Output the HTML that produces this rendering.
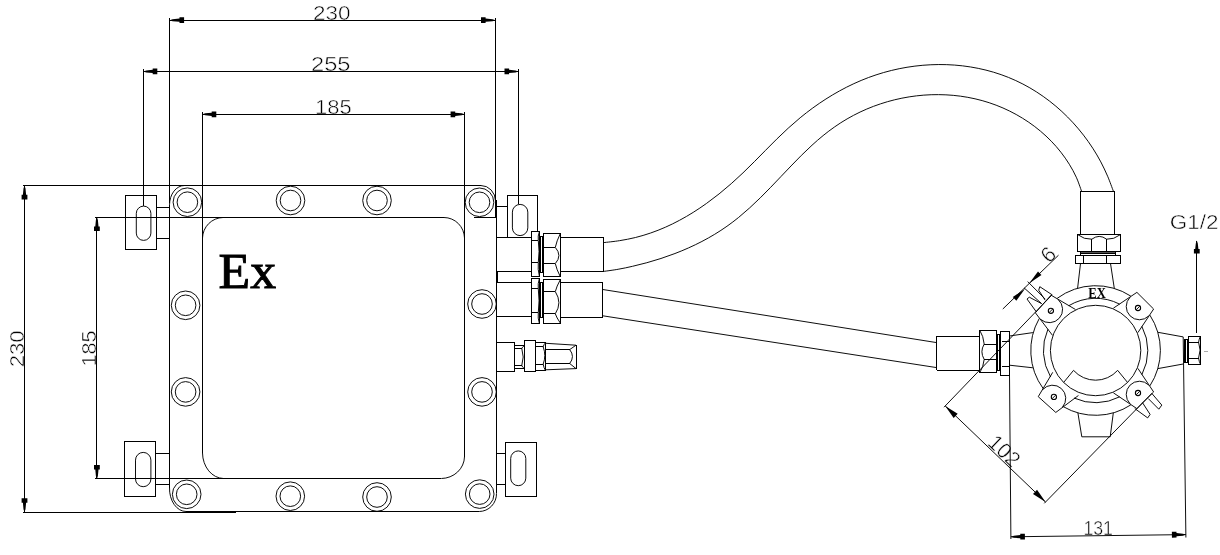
<!DOCTYPE html>
<html><head><meta charset="utf-8"><title>Ex junction box drawing</title>
<style>
html,body{margin:0;padding:0;background:#fff;}
svg{display:block;filter:grayscale(1)}
.cad{font-family:"Liberation Sans",sans-serif;fill:#000;stroke:#fff;stroke-width:0.5px;}
.g{fill:none;stroke:#000;stroke-width:0.95;stroke-linecap:butt;stroke-linejoin:miter}
</style></head>
<body>
<svg width="1220" height="555" viewBox="0 0 1220 555">
<rect x="0" y="0" width="1220" height="555" fill="#fff"/>
<g>
<text class="cad" x="313" y="20.0" font-size="19.5" textLength="37.5" lengthAdjust="spacingAndGlyphs" text-anchor="start">230</text>
<text class="cad" x="311" y="71.2" font-size="19.5" textLength="39.5" lengthAdjust="spacingAndGlyphs" text-anchor="start">255</text>
<text class="cad" x="315" y="114.0" font-size="19.5" textLength="36.7" lengthAdjust="spacingAndGlyphs" text-anchor="start">185</text>
<text class="cad" x="24.2" y="367.3" font-size="20.3" textLength="37" lengthAdjust="spacingAndGlyphs" transform="rotate(-90 24.2 367.3)" text-anchor="start">230</text>
<text class="cad" x="96.5" y="366.6" font-size="20.3" textLength="36.3" lengthAdjust="spacingAndGlyphs" transform="rotate(-90 96.5 366.6)" text-anchor="start">185</text>
<text class="cad" x="1169.7" y="228.7" font-size="19.5" textLength="48.7" lengthAdjust="spacingAndGlyphs" text-anchor="start">G1/2</text>
<text class="cad" x="1083.4" y="535.4" font-size="19.5" textLength="29.6" lengthAdjust="spacingAndGlyphs" text-anchor="start">131</text>
<text class="cad" x="986.6" y="444.0" font-size="21.5" textLength="35" lengthAdjust="spacingAndGlyphs" transform="rotate(43.8 986.6 444.0)" text-anchor="start">102</text>
<text class="cad" x="1049.0" y="264.0" font-size="21.5" transform="rotate(-44 1049.0 264.0)" text-anchor="start">6</text>
<text x="218.6" y="288" font-family="'Liberation Serif',serif" font-size="50.5" textLength="57.5" lengthAdjust="spacingAndGlyphs" fill="#000" stroke="#000" stroke-width="1">Ex</text>
<text x="1088.2" y="298" font-family="'Liberation Serif',serif" font-weight="bold" font-size="14" textLength="17.6" lengthAdjust="spacingAndGlyphs" fill="#000">EX</text>
</g>
<g class="g">
<path d="M480.8,185.5 A14.7,15.5 0 0 1 495.5,201"/>
<line x1="184.60" y1="185.50" x2="480.80" y2="185.50" shape-rendering="crispEdges" stroke-width="1"/>
<path d="M496.5,493.3 A17.4,17.8 0 0 1 479.2,511.5 M186.2,511.5 A16.6,23 0 0 1 169.5,487.6 M169.5,204.9 A15,19.5 0 0 1 184.6,185.5"/>
<line x1="496.50" y1="200.00" x2="496.50" y2="493.30" shape-rendering="crispEdges" stroke-width="1"/>
<line x1="186.20" y1="511.50" x2="479.20" y2="511.50" shape-rendering="crispEdges" stroke-width="1"/>
<line x1="169.50" y1="204.90" x2="169.50" y2="487.60" shape-rendering="crispEdges" stroke-width="1"/>
<path d="M202.5,238 A21,21 0 0 1 223,217.5 M444,217.5 A20.7,21 0 0 1 464.5,238 M464.5,456.7 A23.5,22.2 0 0 1 441.3,478.5 M223.4,478.5 A21.4,26 0 0 1 202.5,453"/>
<line x1="223.00" y1="217.50" x2="444.00" y2="217.50" shape-rendering="crispEdges" stroke-width="1"/>
<line x1="464.50" y1="238.00" x2="464.50" y2="456.70" shape-rendering="crispEdges" stroke-width="1"/>
<line x1="223.40" y1="478.50" x2="441.30" y2="478.50" shape-rendering="crispEdges" stroke-width="1"/>
<line x1="202.50" y1="238.00" x2="202.50" y2="453.00" shape-rendering="crispEdges" stroke-width="1"/>
<line x1="474.30" y1="217.50" x2="495.50" y2="217.50" shape-rendering="crispEdges" stroke-width="1"/>
<circle cx="187.40" cy="202.20" r="14.30"/>
<circle cx="187.40" cy="202.20" r="10.30"/>
<circle cx="290.50" cy="200.50" r="14.30"/>
<circle cx="290.50" cy="200.50" r="10.30"/>
<circle cx="377.00" cy="200.50" r="14.30"/>
<circle cx="377.00" cy="200.50" r="10.30"/>
<circle cx="479.50" cy="202.30" r="14.30"/>
<circle cx="479.50" cy="202.30" r="10.30"/>
<circle cx="186.70" cy="494.30" r="14.30"/>
<circle cx="186.70" cy="494.30" r="10.30"/>
<circle cx="290.30" cy="496.20" r="14.30"/>
<circle cx="290.30" cy="496.20" r="10.30"/>
<circle cx="377.00" cy="497.00" r="14.30"/>
<circle cx="377.00" cy="497.00" r="10.30"/>
<circle cx="479.70" cy="494.10" r="14.30"/>
<circle cx="479.70" cy="494.10" r="10.30"/>
<circle cx="185.60" cy="305.30" r="14.30"/>
<circle cx="185.60" cy="305.30" r="10.30"/>
<circle cx="185.60" cy="391.90" r="14.30"/>
<circle cx="185.60" cy="391.90" r="10.30"/>
<circle cx="482.00" cy="304.00" r="14.30"/>
<circle cx="482.00" cy="304.00" r="10.30"/>
<circle cx="482.00" cy="391.90" r="14.30"/>
<circle cx="482.00" cy="391.90" r="10.30"/>
<rect x="125.50" y="195.50" width="31.00" height="54.00" shape-rendering="crispEdges" stroke-width="1"/>
<path d="M136.30,213.40 A7.30,7.30 0 0 1 150.90,213.40 V233.10 A7.30,7.30 0 0 1 136.30,233.10 Z"/>
<line x1="156.70" y1="207.50" x2="169.60" y2="207.50" shape-rendering="crispEdges" stroke-width="1"/>
<line x1="156.70" y1="238.50" x2="169.60" y2="238.50" shape-rendering="crispEdges" stroke-width="1"/>
<rect x="124.50" y="441.50" width="31.00" height="55.00" shape-rendering="crispEdges" stroke-width="1"/>
<path d="M135.50,460.10 A7.70,7.70 0 0 1 150.90,460.10 V479.00 A7.70,7.70 0 0 1 135.50,479.00 Z"/>
<line x1="155.70" y1="453.50" x2="169.60" y2="453.50" shape-rendering="crispEdges" stroke-width="1"/>
<line x1="155.70" y1="484.50" x2="169.60" y2="484.50" shape-rendering="crispEdges" stroke-width="1"/>
<line x1="507.50" y1="237.40" x2="507.50" y2="195.30" shape-rendering="crispEdges" stroke-width="1"/>
<line x1="507.20" y1="195.50" x2="537.70" y2="195.50" shape-rendering="crispEdges" stroke-width="1"/>
<line x1="537.50" y1="195.30" x2="537.50" y2="231.60" shape-rendering="crispEdges" stroke-width="1"/>
<path d="M512.40,212.10 A7.70,7.70 0 0 1 527.80,212.10 V227.90 A7.70,7.70 0 0 1 512.40,227.90 Z"/>
<line x1="496.30" y1="206.50" x2="507.20" y2="206.50" shape-rendering="crispEdges" stroke-width="1"/>
<rect x="505.50" y="442.50" width="31.00" height="54.00" shape-rendering="crispEdges" stroke-width="1"/>
<path d="M510.70,458.45 A7.55,7.55 0 0 1 525.80,458.45 V478.15 A7.55,7.55 0 0 1 510.70,478.15 Z"/>
<line x1="496.30" y1="453.50" x2="505.70" y2="453.50" shape-rendering="crispEdges" stroke-width="1"/>
<line x1="496.30" y1="484.50" x2="505.70" y2="484.50" shape-rendering="crispEdges" stroke-width="1"/>
<line x1="169.60" y1="20.50" x2="495.60" y2="20.50" shape-rendering="crispEdges" stroke-width="1"/>
<line x1="169.50" y1="17.50" x2="169.50" y2="202.50" shape-rendering="crispEdges" stroke-width="1"/>
<line x1="495.50" y1="17.50" x2="495.50" y2="217.00" shape-rendering="crispEdges" stroke-width="1"/>
<path d="M169.60,20.20 L172.60,19.20 L179.50,18.60 L179.50,17.30 L184.10,17.30 L184.10,23.10 L179.50,23.10 L179.50,21.80 L172.60,21.20 Z" fill="#000" stroke="none"/>
<path d="M495.50,20.20 L492.50,21.20 L485.60,21.80 L485.60,23.10 L481.00,23.10 L481.00,17.30 L485.60,17.30 L485.60,18.60 L492.50,19.20 Z" fill="#000" stroke="none"/>
<line x1="143.30" y1="71.50" x2="518.50" y2="71.50" shape-rendering="crispEdges" stroke-width="1"/>
<line x1="143.50" y1="68.50" x2="143.50" y2="206.10" shape-rendering="crispEdges" stroke-width="1"/>
<line x1="518.50" y1="68.50" x2="518.50" y2="204.40" shape-rendering="crispEdges" stroke-width="1"/>
<path d="M143.30,71.40 L146.30,70.40 L152.70,69.80 L152.70,68.50 L157.30,68.50 L157.30,74.30 L152.70,74.30 L152.70,73.00 L146.30,72.40 Z" fill="#000" stroke="none"/>
<path d="M518.50,71.40 L515.50,72.40 L509.10,73.00 L509.10,74.30 L504.50,74.30 L504.50,68.50 L509.10,68.50 L509.10,69.80 L515.50,70.40 Z" fill="#000" stroke="none"/>
<line x1="202.30" y1="114.50" x2="464.60" y2="114.50" shape-rendering="crispEdges" stroke-width="1"/>
<line x1="202.50" y1="111.50" x2="202.50" y2="238.50" shape-rendering="crispEdges" stroke-width="1"/>
<line x1="464.50" y1="111.50" x2="464.50" y2="238.50" shape-rendering="crispEdges" stroke-width="1"/>
<path d="M202.30,114.30 L205.30,113.30 L211.70,112.70 L211.70,111.40 L216.30,111.40 L216.30,117.20 L211.70,117.20 L211.70,115.90 L205.30,115.30 Z" fill="#000" stroke="none"/>
<path d="M464.60,114.30 L461.60,115.30 L455.20,115.90 L455.20,117.20 L450.60,117.20 L450.60,111.40 L455.20,111.40 L455.20,112.70 L461.60,113.30 Z" fill="#000" stroke="none"/>
<line x1="24.50" y1="185.40" x2="24.50" y2="512.20" shape-rendering="crispEdges" stroke-width="1"/>
<line x1="23.00" y1="185.50" x2="186.50" y2="185.50" shape-rendering="crispEdges" stroke-width="1"/>
<line x1="23.00" y1="512.50" x2="236.00" y2="512.50" shape-rendering="crispEdges" stroke-width="1"/>
<path d="M24.50,185.40 L25.50,188.40 L26.10,194.80 L27.40,194.80 L27.40,199.40 L21.60,199.40 L21.60,194.80 L22.90,194.80 L23.50,188.40 Z" fill="#000" stroke="none"/>
<path d="M24.50,512.20 L23.50,509.20 L22.90,502.80 L21.60,502.80 L21.60,498.20 L27.40,498.20 L27.40,502.80 L26.10,502.80 L25.50,509.20 Z" fill="#000" stroke="none"/>
<line x1="96.50" y1="217.10" x2="96.50" y2="478.90" shape-rendering="crispEdges" stroke-width="1"/>
<line x1="95.30" y1="217.50" x2="223.50" y2="217.50" shape-rendering="crispEdges" stroke-width="1"/>
<line x1="95.30" y1="478.50" x2="225.00" y2="478.50" shape-rendering="crispEdges" stroke-width="1"/>
<path d="M96.90,217.10 L97.90,220.10 L98.50,226.50 L99.80,226.50 L99.80,231.10 L94.00,231.10 L94.00,226.50 L95.30,226.50 L95.90,220.10 Z" fill="#000" stroke="none"/>
<path d="M96.90,478.90 L95.90,475.90 L95.30,469.50 L94.00,469.50 L94.00,464.90 L99.80,464.90 L99.80,469.50 L98.50,469.50 L97.90,475.90 Z" fill="#000" stroke="none"/>
<line x1="496.30" y1="237.50" x2="531.20" y2="237.50" shape-rendering="crispEdges" stroke-width="1"/>
<line x1="496.30" y1="271.50" x2="531.20" y2="271.50" shape-rendering="crispEdges" stroke-width="1"/>
<rect x="531.50" y="231.50" width="8.00" height="45.00" shape-rendering="crispEdges" stroke-width="1"/>
<line x1="531.30" y1="240.50" x2="538.30" y2="240.50" shape-rendering="crispEdges" stroke-width="1"/>
<line x1="531.30" y1="262.50" x2="538.30" y2="262.50" shape-rendering="crispEdges" stroke-width="1"/>
<path d="M539.4,231.6 Q537.6,236.05 538.3,240.5 Q539.8,251.5 538.3,262.5 Q537.6,269.4 539.4,276.3"/>
<rect x="540.50" y="236.50" width="2.00" height="36.00" shape-rendering="crispEdges" stroke-width="1"/>
<rect x="543.50" y="233.50" width="17.00" height="43.00" shape-rendering="crispEdges" stroke-width="1"/>
<line x1="543.30" y1="247.50" x2="555.30" y2="247.50" shape-rendering="crispEdges" stroke-width="1"/>
<line x1="543.30" y1="263.50" x2="555.30" y2="263.50" shape-rendering="crispEdges" stroke-width="1"/>
<path d="M560.4,233.3 Q556.5,241.35000000000002 555.3,247.4 Q562.5,255.5 555.3,263.6 Q556.5,269.25 560.4,276.9"/>
<line x1="560.60" y1="237.50" x2="603.60" y2="237.50" shape-rendering="crispEdges" stroke-width="1"/>
<line x1="603.50" y1="237.40" x2="603.50" y2="271.50" shape-rendering="crispEdges" stroke-width="1"/>
<line x1="603.60" y1="271.50" x2="560.60" y2="271.50" shape-rendering="crispEdges" stroke-width="1"/>
<line x1="496.30" y1="282.50" x2="531.20" y2="282.50" shape-rendering="crispEdges" stroke-width="1"/>
<line x1="496.30" y1="316.50" x2="531.20" y2="316.50" shape-rendering="crispEdges" stroke-width="1"/>
<rect x="531.50" y="278.50" width="8.00" height="45.00" shape-rendering="crispEdges" stroke-width="1"/>
<line x1="531.30" y1="288.50" x2="538.30" y2="288.50" shape-rendering="crispEdges" stroke-width="1"/>
<line x1="531.30" y1="312.50" x2="538.30" y2="312.50" shape-rendering="crispEdges" stroke-width="1"/>
<path d="M539.4,278.4 Q537.6,283.65 538.3,288.9 Q539.8,300.79999999999995 538.3,312.7 Q537.6,318.1 539.4,323.5"/>
<rect x="540.50" y="282.50" width="2.00" height="35.00" shape-rendering="crispEdges" stroke-width="1"/>
<rect x="543.50" y="279.50" width="17.00" height="44.00" shape-rendering="crispEdges" stroke-width="1"/>
<line x1="543.30" y1="291.50" x2="555.30" y2="291.50" shape-rendering="crispEdges" stroke-width="1"/>
<line x1="543.30" y1="313.50" x2="555.30" y2="313.50" shape-rendering="crispEdges" stroke-width="1"/>
<path d="M560.4,279.5 Q556.5,286.55 555.3,291.6 Q562.5,302.70000000000005 555.3,313.8 Q556.5,317.5 560.4,323.2"/>
<line x1="560.60" y1="282.50" x2="602.80" y2="282.50" shape-rendering="crispEdges" stroke-width="1"/>
<line x1="602.50" y1="282.40" x2="602.50" y2="317.30" shape-rendering="crispEdges" stroke-width="1"/>
<line x1="602.80" y1="317.50" x2="560.60" y2="317.50" shape-rendering="crispEdges" stroke-width="1"/>
<line x1="497.50" y1="271.50" x2="497.50" y2="282.70" stroke-width="1.6" shape-rendering="crispEdges"/>
<line x1="496.30" y1="342.50" x2="514.70" y2="342.50" shape-rendering="crispEdges" stroke-width="1"/>
<line x1="514.50" y1="342.50" x2="514.50" y2="371.30" shape-rendering="crispEdges" stroke-width="1"/>
<line x1="514.70" y1="371.50" x2="496.30" y2="371.50" shape-rendering="crispEdges" stroke-width="1"/>
<line x1="514.70" y1="345.50" x2="524.30" y2="345.50" shape-rendering="crispEdges" stroke-width="1"/>
<line x1="514.70" y1="368.50" x2="524.30" y2="368.50" shape-rendering="crispEdges" stroke-width="1"/>
<line x1="514.70" y1="348.50" x2="521.80" y2="348.50" shape-rendering="crispEdges" stroke-width="1"/>
<line x1="514.70" y1="365.50" x2="521.80" y2="365.50" shape-rendering="crispEdges" stroke-width="1"/>
<path d="M524.0,345.9 Q522.2,347 521.8,348.6 Q524.6,357 521.8,365.3 Q522.2,367.2 524.0,368.3"/>
<rect x="524.50" y="340.50" width="11.00" height="31.00" shape-rendering="crispEdges" stroke-width="1"/>
<line x1="535.70" y1="342.50" x2="545.80" y2="342.50" shape-rendering="crispEdges" stroke-width="1"/>
<line x1="535.70" y1="370.50" x2="545.80" y2="370.50" shape-rendering="crispEdges" stroke-width="1"/>
<line x1="535.70" y1="346.50" x2="543.20" y2="346.50" shape-rendering="crispEdges" stroke-width="1"/>
<line x1="535.70" y1="364.50" x2="543.20" y2="364.50" shape-rendering="crispEdges" stroke-width="1"/>
<path d="M545.5,342.7 Q543.8,344.5 543.2,346.9 Q546.4,355.5 543.2,364.1 Q543.8,368 545.5,370.5"/>
<line x1="545.50" y1="342.70" x2="545.50" y2="370.50" shape-rendering="crispEdges" stroke-width="1"/>
<path d="M545.80,343.30 L576.00,345.20"/>
<line x1="576.50" y1="345.20" x2="576.50" y2="368.60" shape-rendering="crispEdges" stroke-width="1"/>
<path d="M576.00,368.60 L545.80,369.80"/>
<line x1="545.80" y1="349.50" x2="569.70" y2="349.50" shape-rendering="crispEdges" stroke-width="1"/>
<line x1="545.80" y1="363.50" x2="569.70" y2="363.50" shape-rendering="crispEdges" stroke-width="1"/>
<path d="M576,345.2 L569.7,349.6 Q575.2,356.5 569.7,363.5 L576,368.6"/>
<path d="M603.70,242.60 C606.36,242.28 614.38,241.50 619.67,240.65 C624.95,239.80 630.26,238.80 635.42,237.53 C640.59,236.25 645.66,234.73 650.65,233.01 C655.64,231.30 660.53,229.35 665.35,227.24 C670.16,225.12 674.89,222.79 679.53,220.31 C684.18,217.84 688.73,215.17 693.21,212.37 C697.68,209.57 702.07,206.61 706.38,203.53 C710.69,200.45 714.92,197.23 719.07,193.92 C723.22,190.60 727.28,187.16 731.27,183.65 C735.26,180.14 739.15,176.52 742.99,172.86 C746.84,169.20 750.58,165.44 754.33,161.70 C758.08,157.95 761.76,154.14 765.49,150.38 C769.22,146.62 772.92,142.84 776.70,139.14 C780.49,135.44 784.28,131.75 788.19,128.19 C792.11,124.63 796.09,121.12 800.18,117.76 C804.28,114.39 808.48,111.12 812.77,107.99 C817.06,104.87 821.46,101.85 825.93,99.00 C830.41,96.14 834.98,93.41 839.63,90.86 C844.29,88.30 849.03,85.89 853.85,83.67 C858.66,81.45 863.56,79.39 868.53,77.53 C873.50,75.67 878.56,74.00 883.67,72.53 C888.77,71.06 893.96,69.78 899.17,68.71 C904.38,67.64 909.65,66.77 914.93,66.11 C920.20,65.45 925.52,64.99 930.83,64.75 C936.13,64.50 941.46,64.47 946.76,64.65 C952.05,64.84 957.36,65.23 962.60,65.85 C967.85,66.47 973.09,67.30 978.25,68.36 C983.42,69.42 988.55,70.70 993.59,72.21 C998.64,73.72 1003.63,75.46 1008.51,77.43 C1013.39,79.40 1018.21,81.61 1022.89,84.04 C1027.58,86.46 1032.18,89.13 1036.64,91.99 C1041.10,94.85 1045.45,97.93 1049.66,101.19 C1053.86,104.44 1057.94,107.90 1061.86,111.51 C1065.78,115.13 1069.56,118.93 1073.17,122.86 C1076.77,126.79 1080.22,130.89 1083.48,135.11 C1086.74,139.33 1089.84,143.70 1092.72,148.16 C1095.61,152.63 1098.31,157.22 1100.80,161.90 C1103.28,166.57 1105.53,171.36 1107.62,176.21 C1109.70,181.06 1112.35,188.54 1113.30,191.00" stroke-width="0.95"/>
<path d="M603.70,271.40 C606.10,271.05 613.32,270.13 618.12,269.28 C622.92,268.44 627.70,267.41 632.48,266.32 C637.26,265.23 642.04,264.04 646.80,262.73 C651.55,261.42 656.29,260.01 660.98,258.48 C665.68,256.94 670.35,255.30 674.96,253.53 C679.56,251.77 684.14,249.88 688.63,247.87 C693.12,245.86 697.56,243.72 701.91,241.46 C706.26,239.19 710.55,236.80 714.73,234.27 C718.90,231.73 723.00,229.07 726.98,226.26 C730.96,223.46 734.82,220.50 738.60,217.44 C742.39,214.38 746.05,211.17 749.67,207.89 C753.28,204.62 756.80,201.23 760.30,197.80 C763.80,194.37 767.22,190.86 770.65,187.33 C774.07,183.80 777.45,180.22 780.85,176.65 C784.25,173.08 787.62,169.48 791.05,165.94 C794.47,162.40 797.89,158.85 801.38,155.39 C804.88,151.94 808.40,148.52 812.01,145.22 C815.63,141.92 819.29,138.69 823.08,135.62 C826.87,132.55 830.74,129.58 834.75,126.80 C838.75,124.01 842.87,121.37 847.09,118.92 C851.30,116.46 855.64,114.17 860.06,112.07 C864.48,109.97 869.01,108.04 873.59,106.31 C878.18,104.58 882.86,103.03 887.57,101.67 C892.29,100.31 897.09,99.15 901.90,98.18 C906.72,97.21 911.59,96.43 916.47,95.85 C921.35,95.28 926.27,94.90 931.17,94.73 C936.08,94.56 941.01,94.59 945.91,94.83 C950.80,95.07 955.70,95.52 960.56,96.18 C965.41,96.84 970.25,97.71 975.02,98.80 C979.80,99.90 984.54,101.20 989.20,102.73 C993.86,104.26 998.47,106.02 1002.97,107.98 C1007.48,109.94 1011.91,112.13 1016.21,114.51 C1020.51,116.89 1024.72,119.49 1028.77,122.26 C1032.82,125.04 1036.76,128.02 1040.51,131.18 C1044.26,134.33 1047.87,137.68 1051.27,141.19 C1054.67,144.70 1057.91,148.39 1060.92,152.24 C1063.92,156.08 1066.74,160.10 1069.30,164.26 C1071.86,168.42 1074.25,172.74 1076.28,177.19 C1078.31,181.65 1080.63,188.70 1081.50,191.00" stroke-width="0.95"/>
<line x1="602.80" y1="289.50" x2="936.60" y2="342.60"/>
<line x1="602.80" y1="315.80" x2="936.60" y2="367.60"/>
<circle cx="1095.60" cy="350.50" r="45.20"/>
<path d="M1035.36,312.78 L1051.03,295.14"/>
<path d="M1035.36,312.78 L1052.50,335.36"/>
<path d="M1051.03,295.14 L1075.47,309.49"/>
<path d="M1040.64,319.34 A13.0,13.0 0 0 0 1058.17,299.60"/>
<circle cx="1050.90" cy="310.80" r="2.60" stroke-width="1.1"/>
<line x1="1049.10" y1="312.60" x2="1052.70" y2="309.00" stroke-width="0.9"/>
<path d="M1136.92,292.37 L1153.63,309.04"/>
<path d="M1136.92,292.37 L1113.39,308.17"/>
<path d="M1153.63,309.04 L1137.89,332.61"/>
<path d="M1130.07,297.26 A13.0,13.0 0 0 0 1148.76,315.91"/>
<circle cx="1138.00" cy="308.00" r="2.60" stroke-width="1.1"/>
<line x1="1136.20" y1="309.80" x2="1139.80" y2="306.20" stroke-width="0.9"/>
<path d="M1153.63,391.96 L1136.92,408.63"/>
<path d="M1153.63,391.96 L1137.89,368.39"/>
<path d="M1136.92,408.63 L1113.39,392.83"/>
<path d="M1148.76,385.09 A13.0,13.0 0 0 0 1130.07,403.74"/>
<circle cx="1138.00" cy="393.00" r="2.60" stroke-width="1.1"/>
<line x1="1136.20" y1="394.80" x2="1139.80" y2="391.20" stroke-width="0.9"/>
<path d="M1055.79,412.45 L1038.24,396.67"/>
<path d="M1055.79,412.45 L1078.46,395.45"/>
<path d="M1038.24,396.67 L1052.73,372.32"/>
<path d="M1062.38,407.21 A13.0,13.0 0 0 0 1042.75,389.56"/>
<circle cx="1053.90" cy="396.90" r="2.60" stroke-width="1.1"/>
<line x1="1052.10" y1="398.70" x2="1055.70" y2="395.10" stroke-width="0.9"/>
<path d="M1130.83,404.89 A64.8,64.8 0 0 1 1063.25,406.65"/>
<path d="M1043.21,388.64 A64.8,64.8 0 0 1 1039.26,318.48"/>
<path d="M1057.16,298.34 A64.8,64.8 0 0 1 1130.83,296.11"/>
<path d="M1149.90,315.14 A64.8,64.8 0 0 1 1149.90,385.86"/>
<path d="M1119.65,396.83 A52.2,52.2 0 0 1 1074.00,398.02"/>
<path d="M1050.65,377.04 A52.2,52.2 0 0 1 1047.95,329.18"/>
<path d="M1068.80,305.70 A52.2,52.2 0 0 1 1119.65,304.17"/>
<path d="M1141.87,326.34 A52.2,52.2 0 0 1 1141.87,374.66"/>
<path d="M1127.56,382.46 L1117.67,370.37 A29.7,29.7 0 0 1 1073.53,370.37 L1063.64,382.46"/>
<path d="M1080.50,263.50 L1077.60,288.20"/>
<path d="M1110.50,263.50 L1114.30,288.40"/>
<rect x="1075.50" y="255.50" width="45.00" height="8.00" shape-rendering="crispEdges" stroke-width="1"/>
<line x1="1083.50" y1="255.40" x2="1083.50" y2="263.50" shape-rendering="crispEdges" stroke-width="1"/>
<line x1="1106.50" y1="255.40" x2="1106.50" y2="263.50" shape-rendering="crispEdges" stroke-width="1"/>
<line x1="1080.50" y1="252.50" x2="1115.60" y2="252.50" stroke="#555" shape-rendering="crispEdges" stroke-width="1"/>
<line x1="1080.50" y1="253.50" x2="1115.60" y2="253.50" shape-rendering="crispEdges" stroke-width="1"/>
<line x1="1080.50" y1="252.30" x2="1080.50" y2="255.40" shape-rendering="crispEdges" stroke-width="1"/>
<line x1="1115.50" y1="252.30" x2="1115.50" y2="255.40" shape-rendering="crispEdges" stroke-width="1"/>
<rect x="1077.50" y="234.50" width="43.00" height="17.00" shape-rendering="crispEdges" stroke-width="1"/>
<line x1="1091.50" y1="239.20" x2="1091.50" y2="251.20" shape-rendering="crispEdges" stroke-width="1"/>
<line x1="1106.50" y1="239.20" x2="1106.50" y2="251.20" shape-rendering="crispEdges" stroke-width="1"/>
<path d="M1077.8,234.7 Q1084,239.6 1091.8,239.2 Q1099.2,233.6 1106.6,239.2 Q1114,239.6 1120.3,234.7"/>
<line x1="1080.50" y1="234.50" x2="1080.50" y2="191.10" shape-rendering="crispEdges" stroke-width="1"/>
<line x1="1080.40" y1="191.50" x2="1114.50" y2="191.50" shape-rendering="crispEdges" stroke-width="1"/>
<line x1="1114.50" y1="191.10" x2="1114.50" y2="234.50" shape-rendering="crispEdges" stroke-width="1"/>
<line x1="979.40" y1="336.50" x2="936.60" y2="336.50" shape-rendering="crispEdges" stroke-width="1"/>
<line x1="936.50" y1="336.40" x2="936.50" y2="370.20" shape-rendering="crispEdges" stroke-width="1"/>
<line x1="936.60" y1="370.50" x2="979.40" y2="370.50" shape-rendering="crispEdges" stroke-width="1"/>
<rect x="979.50" y="330.50" width="17.00" height="42.00" shape-rendering="crispEdges" stroke-width="1"/>
<line x1="984.20" y1="344.50" x2="996.50" y2="344.50" shape-rendering="crispEdges" stroke-width="1"/>
<line x1="984.20" y1="359.50" x2="996.50" y2="359.50" shape-rendering="crispEdges" stroke-width="1"/>
<path d="M979.7,330.2 Q983.4,336 984.2,344.1 Q979.6,351.7 984.2,359.4 Q983.4,367 979.7,372.9"/>
<rect x="997.50" y="334.50" width="2.00" height="36.00" stroke-width="1.4" shape-rendering="crispEdges"/>
<rect x="1000.50" y="331.50" width="9.00" height="44.00" shape-rendering="crispEdges" stroke-width="1"/>
<line x1="1001.60" y1="341.50" x2="1009.50" y2="341.50" shape-rendering="crispEdges" stroke-width="1"/>
<line x1="1001.60" y1="366.50" x2="1009.50" y2="366.50" shape-rendering="crispEdges" stroke-width="1"/>
<path d="M1009.50,336.00 L1032.90,332.60"/>
<path d="M1009.50,365.20 L1032.90,367.80"/>
<path d="M1157.90,332.30 L1183.20,336.90"/>
<path d="M1157.90,368.60 L1183.20,364.00"/>
<rect x="1184.50" y="339.50" width="3.00" height="23.00" shape-rendering="crispEdges" stroke-width="1"/>
<line x1="1185.50" y1="339.30" x2="1185.50" y2="362.20" shape-rendering="crispEdges" stroke-width="1"/>
<rect x="1188.50" y="336.50" width="12.00" height="28.00" shape-rendering="crispEdges" stroke-width="1"/>
<line x1="1188.30" y1="342.50" x2="1198.60" y2="342.50" shape-rendering="crispEdges" stroke-width="1"/>
<line x1="1188.30" y1="358.50" x2="1198.60" y2="358.50" shape-rendering="crispEdges" stroke-width="1"/>
<path d="M1200.5,336 Q1199,339 1198.6,342.3 Q1201.6,350 1198.6,358 Q1199,361.5 1200.5,364.3"/>
<line x1="1204.00" y1="351.50" x2="1207.80" y2="351.50" stroke="#aaa" shape-rendering="crispEdges" stroke-width="1"/>
<path d="M1077.90,412.90 L1081.80,436.80 L1110.20,436.80 L1113.30,412.90"/>
<path d="M1052.10,294.80 L1039.80,286.70 L1038.70,290.20 L1045.10,300.10"/>
<path d="M1041.60,303.60 L1029.30,297.20 L1027.00,299.00 L1036.30,311.80"/>
<path d="M1151.80,393.40 L1161.80,405.10 L1158.80,409.20 L1148.30,398.60"/>
<path d="M1142.50,402.70 L1150.10,414.40 L1147.70,417.90 L1134.80,408.60"/>
<path d="M1009.50,375.30 L1010.90,539.00"/>
<path d="M1183.20,336.90 L1185.90,537.50"/>
<line x1="1010.90" y1="536.80" x2="1185.90" y2="534.60"/>
<path d="M1010.90,536.80 L1013.89,535.76 L1020.28,535.09 L1020.26,533.79 L1024.86,533.73 L1024.93,539.53 L1020.33,539.58 L1020.32,538.29 L1013.91,537.76 Z" fill="#000" stroke="none"/>
<path d="M1185.90,534.60 L1182.91,535.64 L1176.52,536.31 L1176.54,537.61 L1171.94,537.67 L1171.87,531.87 L1176.47,531.82 L1176.48,533.11 L1182.89,533.64 Z" fill="#000" stroke="none"/>
<line x1="945.20" y1="405.90" x2="1045.50" y2="502.00"/>
<path d="M945.20,405.90 L957.67,413.84 L953.66,418.03 Z" fill="#000" stroke="none"/>
<path d="M1045.50,502.00 L1033.03,494.06 L1037.04,489.87 Z" fill="#000" stroke="none"/>
<path d="M944.00,407.20 L1052.10,294.80"/>
<path d="M1044.30,503.30 L1151.80,393.40"/>
<line x1="1002.80" y1="309.00" x2="1058.50" y2="255.20"/>
<path d="M1025.00,288.80 L1016.31,300.67 L1012.83,297.07 Z" fill="#000" stroke="none"/>
<path d="M1029.30,283.30 L1037.99,271.43 L1041.47,275.03 Z" fill="#000" stroke="none"/>
<path d="M1024.00,287.80 L1041.60,303.60"/>
<path d="M1027.70,281.60 L1045.10,299.00"/>
<line x1="1196.50" y1="240.50" x2="1196.50" y2="333.30" shape-rendering="crispEdges" stroke-width="1"/>
<path d="M1196.80,240.50 L1197.80,243.50 L1198.40,248.90 L1199.70,248.90 L1199.70,253.50 L1193.90,253.50 L1193.90,248.90 L1195.20,248.90 L1195.80,243.50 Z" fill="#000" stroke="none"/>
</g>
</svg>
</body></html>
